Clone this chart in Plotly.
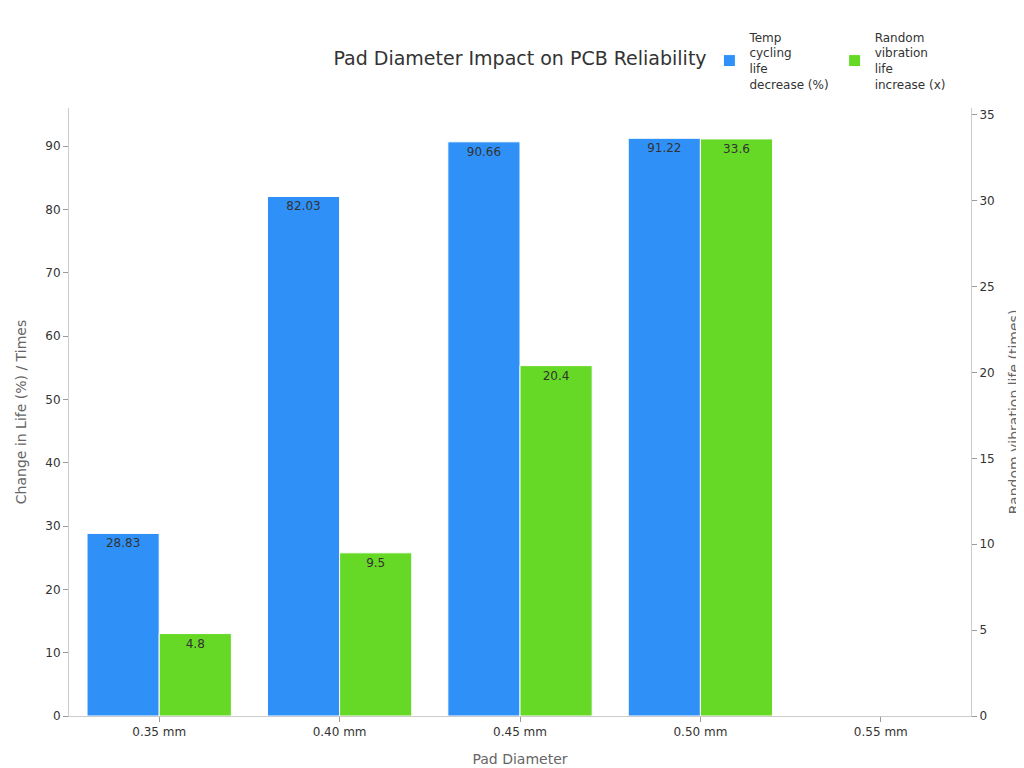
import plotly.graph_objects as go

categories = ["0.35 mm", "0.40 mm", "0.45 mm", "0.50 mm", "0.55 mm"]
temp_decrease = [28.83, 82.03, 90.66, 91.22, None]
vib_increase = [4.8, 9.5, 20.4, 33.6, None]

fig = go.Figure()
fig.add_trace(go.Bar(
    x=categories, y=temp_decrease, name="Temp<br>cycling<br>life<br>decrease (%)",
    marker=dict(color="#2f91f7", line=dict(color="white", width=1)),
    text=[f"{v:.2f}" if v is not None else "" for v in temp_decrease],
    textposition="inside", insidetextanchor="end",
    textfont=dict(color="#333333", size=12), offsetgroup="a", yaxis="y"))
fig.add_trace(go.Bar(
    x=categories, y=vib_increase, name="Random<br>vibration<br>life<br>increase (x)",
    marker=dict(color="#66d926", line=dict(color="white", width=1)),
    text=[str(v) if v is not None else "" for v in vib_increase],
    textposition="inside", insidetextanchor="end",
    textfont=dict(color="#333333", size=12), offsetgroup="b", yaxis="y2"))

axis_common = dict(showline=True, linecolor="#cccccc", ticks="outside", tickcolor="#999999",
                   ticklen=5, showgrid=False, zeroline=False,
                   tickfont=dict(size=12, color="#333333"), title_font=dict(size=14, color="#666666"))
fig.update_layout(
    width=1024, height=768, plot_bgcolor="white", paper_bgcolor="white",
    font=dict(family="DejaVu Sans"),
    title=dict(text="Pad Diameter Impact on PCB Reliability", x=0.5, xanchor="center",
               y=0.943, font=dict(size=19, color="#333333")),
    barmode="group", bargap=0.2, bargroupgap=0,
    margin=dict(l=61, r=61, t=100, b=60),
    xaxis=dict(title="Pad Diameter", **axis_common),
    yaxis=dict(title="Change in Life (%) / Times", range=[0, 96], dtick=10, **axis_common),
    yaxis2=dict(title="Random vibration life (times)", range=[0, 35.4], dtick=5,
                overlaying="y", side="right", **axis_common),
    legend=dict(orientation="h", x=0.71, y=1.14, xanchor="left", yanchor="top",
                font=dict(size=12, color="#333333"), itemwidth=30, traceorder="normal"),
    uniformtext=dict(minsize=8, mode="show"),
)
fig.update_traces(cliponaxis=False, textangle=0)
fig.write_html("out.html")
